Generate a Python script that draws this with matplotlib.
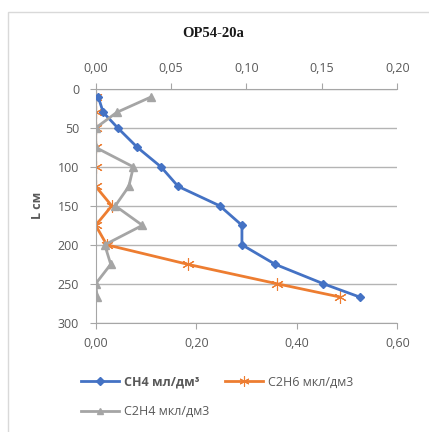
import matplotlib
matplotlib.use("Agg")
import matplotlib.pyplot as plt
from matplotlib.patches import Rectangle
from matplotlib.ticker import FuncFormatter, MultipleLocator

# depth, cm
depth = [10, 30, 50, 75, 100, 125, 150, 175, 200, 225, 250, 267]

# CH4, ml/dm3 (bottom axis)
ch4 = [0.005, 0.015, 0.044, 0.083, 0.130, 0.164, 0.247, 0.291, 0.291, 0.357, 0.453, 0.525]
# C2H6, mkl/dm3 (bottom axis)
c2h6 = [0.0, 0.0, 0.0, 0.0, 0.0, 0.0, 0.032, 0.0, 0.022, 0.183, 0.361, 0.486]
# C2H4, mkl/dm3 (top axis)
c2h4 = [0.037, 0.014, 0.0, 0.0, 0.025, 0.022, 0.013, 0.031, 0.006, 0.010, 0.0, 0.001]

labels = ["CH4 мл/дм³", "C2H6 мкл/дм3", "C2H4 мкл/дм3"]
title = "OP54-20a"
ylabel = "L см"

plt.rcParams["font.family"] = ["Open Sans", "DejaVu Sans"]
AX_GRAY = "#a6a6a6"
TXT = "#595959"


def comma_fmt(v, pos):
    return f"{v:.2f}".replace(".", ",")


fig = plt.figure(figsize=(4.29, 4.32), dpi=100)
ax = fig.add_axes([0.223, 0.253, 0.703, 0.541])

l1, = ax.plot(ch4, depth, color="#4472c4", lw=2, marker="D", ms=4.5, zorder=3)
l2, = ax.plot(c2h6, depth, color="#ed7d31", lw=2, marker=(6, 2, 0), ms=9,
              mew=0.8, zorder=2)

ax.set_xlim(0, 0.6)
ax.set_ylim(300, 0)
ax.xaxis.set_major_locator(MultipleLocator(0.2))
ax.yaxis.set_major_locator(MultipleLocator(50))
ax.xaxis.set_major_formatter(FuncFormatter(comma_fmt))
ax.grid(axis="y", color="#b4b4b4", lw=1)
ax.set_axisbelow(True)
for s in ["top", "right"]:
    ax.spines[s].set_visible(False)
for s in ["left", "bottom"]:
    ax.spines[s].set_color(AX_GRAY)
ax.tick_params(axis="both", colors=AX_GRAY, labelcolor=TXT, labelsize=9,
               length=4, direction="out")
ax.tick_params(axis="x", pad=6)
ax.tick_params(axis="y", pad=8)
ax.set_ylabel(ylabel, fontsize=9, fontweight="bold", color=TXT, labelpad=10)

ax2 = ax.twiny()
l3, = ax2.plot(c2h4, depth, color="#a5a5a5", lw=2, marker="^", ms=6, zorder=3)
ax2.set_xlim(0, 0.2)
ax2.xaxis.set_major_locator(MultipleLocator(0.05))
ax2.xaxis.set_major_formatter(FuncFormatter(comma_fmt))
for s in ["bottom", "right", "left"]:
    ax2.spines[s].set_visible(False)
ax2.spines["top"].set_color(AX_GRAY)
ax2.tick_params(axis="x", colors=AX_GRAY, labelcolor=TXT, labelsize=9,
                length=4, direction="out", pad=6)

fig.text(0.4965, 0.922, title, ha="center", va="center", fontsize=10.5,
         fontweight="bold", family="Liberation Serif", color="#1a1a1a")

leg = fig.legend([l1, l3, l2], [labels[0], labels[2], labels[1]], ncol=2,
                 loc="upper left", bbox_to_anchor=(0.178, 0.142), frameon=False,
                 fontsize=9, handlelength=3.0, handletextpad=0.4,
                 columnspacing=1.3, labelspacing=1.3, borderaxespad=0,
                 markerscale=0.8)
for t in leg.get_texts():
    t.set_color(TXT)
leg.get_texts()[0].set_fontweight("bold")

fig.add_artist(Rectangle((8 / 429, -0.1), 1.2, 1.1 - 12 / 432,
                         transform=fig.transFigure, fill=False,
                         edgecolor="#d9d9d9", lw=1))

fig.savefig("out.png", dpi=100)
